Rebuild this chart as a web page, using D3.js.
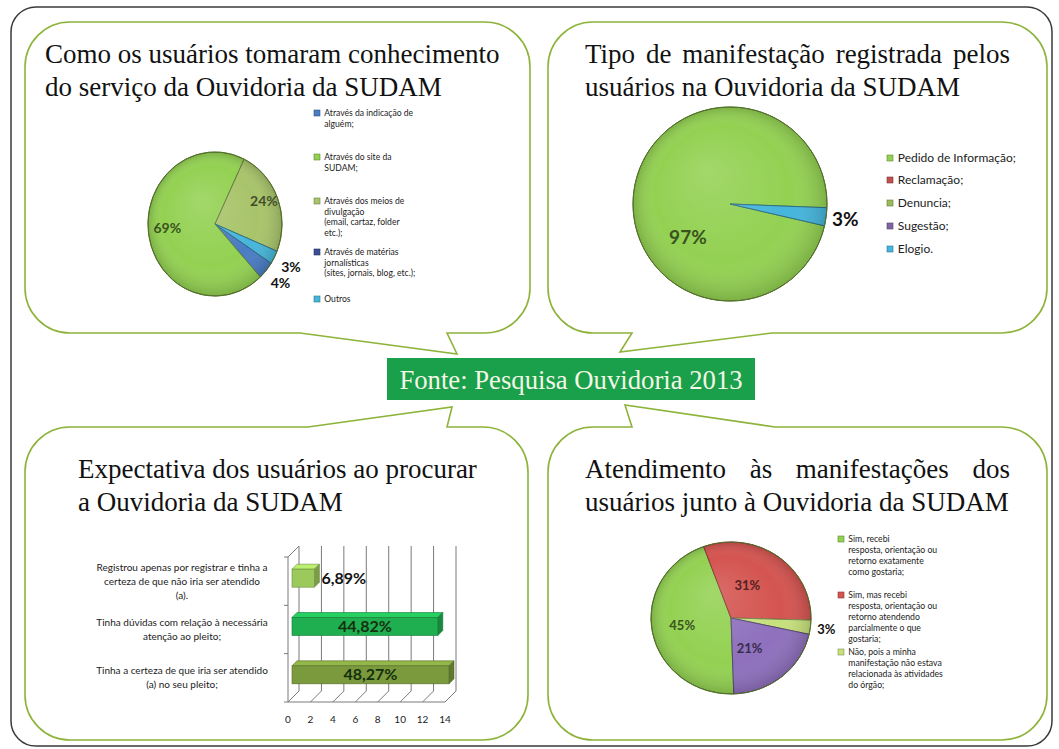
<!DOCTYPE html>
<html>
<head>
<meta charset="utf-8">
<script src="https://cdn.jsdelivr.net/npm/d3@7"></script>
<style>
  body { margin: 0; background: #fff; }
  svg { display: block; }
  .title { font-family: "Liberation Serif", "Times New Roman", serif; font-size: 27px; fill: #111; }
  .small { font-family: Lato, "Open Sans", sans-serif; fill: #222; }
  .pct { font-family: Lato, "Open Sans", sans-serif; font-weight: bold; }
</style>
</head>
<body>
<div id="chart"></div>
<script>
var svgWidth = 1059;
var svgHeight = 749;

// Como os usuarios tomaram conhecimento
var knowLabels = ["Através da indicação de\nalguém;", "Através do site da\nSUDAM;",
  "Através dos meios de\ndivulgação\n(email, cartaz, folder\netc.);",
  "Através de matérias\njornalísticas\n(sites, jornais, blog, etc.);", "Outros"];
var knowValues = [4, 69, 24, 0, 3];
var knowColors = ["#4a7cc4", "#93d152", "#a8c46a", "#3b4d94", "#47b6da"];

// Tipo de manifestacao
var typeLabels = ["Pedido de Informação;", "Reclamação;", "Denuncia;", "Sugestão;", "Elogio."];
var typeValues = [97, 0, 0, 0, 3];
var typeColors = ["#93d152", "#c0504d", "#9bbb59", "#8064a2", "#45b5dc"];

// Expectativa dos usuarios
var expLabels = ["Registrou apenas por registrar e tinha a\ncerteza de que não iria ser atendido\n(a).",
  "Tinha dúvidas com relação à necessária\natenção ao pleito;",
  "Tinha a certeza de que iria ser atendido\n(a) no seu pleito;"];
var expValues = [2, 13, 14];
var expPercent = ["6,89%", "44,82%", "48,27%"];
var expColors = ["#9cc95c", "#1fae50", "#7b9a3d"];
var expTicks = [0, 2, 4, 6, 8, 10, 12, 14];

// Atendimento as manifestacoes
var attLabels = ["Sim, recebi\nresposta, orientação ou\nretorno exatamente\ncomo gostaria;",
  "Sim, mas recebi\nresposta, orientação ou\nretorno atendendo\nparcialmente o que\ngostaria;",
  "Não, pois a minha\nmanifestação não estava\nrelacionada às atividades\ndo órgão;"];
var attValues = [45, 31, 3, 21];
var attColors = ["#93d152", "#d45450", "#c6e07c", "#8e70bd"];

var svg = d3.select("#chart")
    .append("svg")
    .attr("width", svgWidth)
    .attr("height", svgHeight);

var defs = svg.append("defs");
var gloss = defs.append("radialGradient")
    .attr("id", "gloss")
    .attr("cx", "50%").attr("cy", "50%").attr("r", "50%")
    .attr("fx", "38%").attr("fy", "32%");
gloss.append("stop").attr("offset", "0%").attr("stop-color", "#fff").attr("stop-opacity", 0.14);
gloss.append("stop").attr("offset", "70%").attr("stop-color", "#fff").attr("stop-opacity", 0);
gloss.append("stop").attr("offset", "100%").attr("stop-color", "#000").attr("stop-opacity", 0.16);

svg.append("rect").attr("width", svgWidth).attr("height", svgHeight).attr("fill", "#fff");

// outer frame
svg.append("rect")
    .attr("x", 11).attr("y", 7)
    .attr("width", 1041).attr("height", 739)
    .attr("rx", 25)
    .attr("fill", "none")
    .attr("stroke", "#3a3a3a")
    .attr("stroke-width", 1.5);

// speech-bubble boxes
function callout(x0, y0, x1, y1, r, side, a, tip, b) {
  var p = "M" + (x0 + r) + "," + y0;
  if (side == "top") p += " L" + a + "," + y0 + " L" + tip[0] + "," + tip[1] + " L" + b + "," + y0;
  p += " H" + (x1 - r) + " A" + r + "," + r + " 0 0 1 " + x1 + "," + (y0 + r);
  p += " V" + (y1 - r) + " A" + r + "," + r + " 0 0 1 " + (x1 - r) + "," + y1;
  if (side == "bottom") p += " L" + a + "," + y1 + " L" + tip[0] + "," + tip[1] + " L" + b + "," + y1;
  p += " H" + (x0 + r) + " A" + r + "," + r + " 0 0 1 " + x0 + "," + (y1 - r);
  p += " V" + (y0 + r) + " A" + r + "," + r + " 0 0 1 " + (x0 + r) + "," + y0 + " Z";
  svg.append("path")
    .attr("d", p)
    .attr("fill", "#fff")
    .attr("stroke", "#8db33a")
    .attr("stroke-width", 1.6);
}
callout(25, 22, 530, 333, 45, "bottom", 447, [457, 354], 300);
callout(548, 22, 1047, 333, 45, "bottom", 772, [620, 352], 632);
callout(25, 427, 528, 740, 45, "top", 308, [452, 407], 447);
callout(548, 427, 1047, 740, 45, "top", 632, [625, 405], 775);

// source label
svg.append("rect")
    .attr("x", 387).attr("y", 358)
    .attr("width", 368).attr("height", 42)
    .attr("fill", "#1a9f4a");
svg.append("text")
    .attr("x", 571).attr("y", 389)
    .attr("text-anchor", "middle")
    .style("font-family", "'Liberation Serif', serif")
    .style("font-size", "26.7px")
    .style("fill", "#f2f7e6")
    .text("Fonte: Pesquisa Ouvidoria 2013");

// titles, some lines justified
function title(x, y, lines, width, justify) {
  lines.forEach(function(line, i) {
    var yy = y + i * 33;
    if (!justify[i]) {
      svg.append("text").attr("class", "title").attr("x", x).attr("y", yy).text(line);
      return;
    }
    var words = line.split(" ");
    var ws = words.map(function(w) {
      return svg.append("text").attr("class", "title").attr("y", yy).text(w);
    });
    var total = d3.sum(ws, function(s) { return s.node().getComputedTextLength(); });
    var gap = (width - total) / (words.length - 1);
    var cx = x;
    ws.forEach(function(s) {
      s.attr("x", cx);
      cx += s.node().getComputedTextLength() + gap;
    });
  });
}
title(45, 63, ["Como os usuários tomaram conhecimento", "do serviço da Ouvidoria da SUDAM"], 452, [false, false]);
title(585, 63, ["Tipo de manifestação registrada pelos", "usuários na Ouvidoria da SUDAM"], 425, [true, false]);
title(78, 478, ["Expectativa dos usuários ao procurar", "a Ouvidoria da SUDAM"], 412, [false, false]);
title(585, 478, ["Atendimento às manifestações dos", "usuários junto à Ouvidoria da SUDAM"], 425, [true, false]);

// pies
function drawPie(o) {
  var k = o.ry / o.rx;
  var start = o.startDeg * Math.PI / 180;
  var pie = d3.pie().sort(null).startAngle(start).endAngle(start + 2 * Math.PI);
  var arcs = pie(o.values);
  var arc = d3.arc().innerRadius(0).outerRadius(o.rx);
  var g = svg.append("g").attr("transform", `translate(${o.cx}, ${o.cy}) scale(1, ${k})`);
  g.selectAll("path")
    .data(arcs.filter(function(d) { return d.value > 0; }))
    .enter()
    .append("path")
    .attr("d", arc)
    .attr("fill", function(d) { return o.colors[d.index]; })
    .attr("stroke", function(d) { return d3.color(o.colors[d.index]).darker(1.4); })
    .attr("stroke-width", 1)
    .attr("vector-effect", "non-scaling-stroke");
  g.append("circle")
    .attr("r", o.rx)
    .attr("fill", "url(#gloss)")
    .attr("stroke", "#55702a")
    .attr("stroke-width", 1)
    .attr("vector-effect", "non-scaling-stroke");

  arcs.filter(function(d) { return d.value > 0; }).forEach(function(d) {
    var outside = d.value < 5;
    var rr = o.rx * (outside ? o.outR : o.inR);
    var la = d3.arc().innerRadius(rr).outerRadius(rr);
    var c = la.centroid(d);
    var off = outside ? [0, 0] : o.inOffset;
    svg.append("text")
      .attr("class", "pct")
      .attr("x", o.cx + c[0] + off[0])
      .attr("y", o.cy + c[1] * k + off[1])
      .attr("dy", "0.35em")
      .attr("text-anchor", "middle")
      .style("font-size", o.font + "px")
      .style("fill", outside ? "#111" : d3.color(o.colors[d.index]).darker(2.6))
      .text(d.value + "%");
  });
}

function drawLegend(x, ys, labels, colors, font, lineH) {
  labels.forEach(function(lab, i) {
    svg.append("rect")
      .attr("x", x).attr("y", ys[i] - 3)
      .attr("width", 6).attr("height", 6)
      .attr("fill", colors[i])
      .attr("stroke", d3.color(colors[i]).darker(1.2))
      .attr("stroke-width", 0.6);
    var t = svg.append("text")
      .attr("class", "small")
      .style("font-size", font + "px");
    lab.split("\n").forEach(function(l, j) {
      t.append("tspan").attr("x", x + 9 + font * 0.15).attr("y", ys[i] + j * lineH).attr("dy", "0.35em").text(l);
    });
  });
}

drawPie({cx: 215, cy: 224, rx: 67, ry: 72, values: knowValues, colors: knowColors,
  startDeg: 123, font: 14, inR: 0.75, outR: 1.28, inOffset: [2, -4]});
drawLegend(314, [113, 157, 201, 252, 299], knowLabels, knowColors, 8.6, 10.5);

drawPie({cx: 730, cy: 204, rx: 97, ry: 97, values: typeValues, colors: typeColors,
  startDeg: 103, font: 19, inR: 0.5, outR: 1.2, inOffset: [6, 40]});
drawLegend(887, [158, 180, 203, 226, 249], typeLabels, typeColors, 12, 12);

drawPie({cx: 731, cy: 618, rx: 80, ry: 76, values: attValues, colors: attColors,
  startDeg: 178, font: 13, inR: 0.52, outR: 1.2, inOffset: [-8, 0]});
drawLegend(838, [539, 595, 652], attLabels, attColors, 8.7, 11);

// 3d horizontal bar chart
var xScale = d3.scaleLinear().domain([0, 14]).range([288, 445]);
var yScale = d3.scaleBand().domain(expLabels).range([557, 702]);
var dx = 11, dy = -11;
var yBot = yScale.range()[1], yTop = yScale.range()[0];
var grid = svg.append("g").attr("stroke", "#7a7a7a").attr("stroke-width", 1).attr("fill", "none");

expTicks.forEach(function(t) {
  grid.append("line")
    .attr("x1", xScale(t) + dx).attr("x2", xScale(t) + dx)
    .attr("y1", yTop + dy).attr("y2", yBot + dy);
  grid.append("line")
    .attr("x1", xScale(t)).attr("x2", xScale(t) + dx)
    .attr("y1", yBot).attr("y2", yBot + dy);
});
grid.append("line").attr("x1", xScale(0)).attr("x2", xScale(14)).attr("y1", yBot).attr("y2", yBot);
grid.append("line").attr("x1", xScale(0)).attr("x2", xScale(0)).attr("y1", yTop).attr("y2", yBot);
grid.append("line").attr("x1", xScale(0)).attr("x2", xScale(0) + dx).attr("y1", yTop).attr("y2", yTop + dy);
yScale.domain().concat([null]).forEach(function(c) {
  var yy = c === null ? yBot : yScale(c);
  grid.append("line").attr("x1", xScale(0) - 4).attr("x2", xScale(0)).attr("y1", yy).attr("y2", yy);
});

var bd = 5, bh = 18;
expLabels.forEach(function(c, i) {
  var x0 = xScale(0) + 4, x1 = xScale(expValues[i]) + 4;
  var y0 = yScale(c) + yScale.bandwidth() / 2 - bh / 2 - 3;
  var col = d3.color(expColors[i]);
  svg.append("path")
    .attr("d", `M${x0},${y0} L${x0 + bd},${y0 - bd} L${x1 + bd},${y0 - bd} L${x1},${y0} Z`)
    .attr("fill", col.brighter(0.5)).attr("stroke", col.darker(1)).attr("stroke-width", 0.6);
  svg.append("path")
    .attr("d", `M${x1},${y0} L${x1 + bd},${y0 - bd} L${x1 + bd},${y0 + bh - bd} L${x1},${y0 + bh} Z`)
    .attr("fill", col.darker(0.7)).attr("stroke", col.darker(1)).attr("stroke-width", 0.6);
  svg.append("rect")
    .attr("x", x0).attr("y", y0)
    .attr("width", x1 - x0).attr("height", bh)
    .attr("fill", col).attr("stroke", col.darker(1)).attr("stroke-width", 0.6);

  var inside = expValues[i] > 4;
  svg.append("text")
    .attr("class", "pct")
    .attr("x", inside ? (x0 + x1) / 2 : x1 + bd + 2)
    .attr("y", y0 + bh / 2)
    .attr("dy", "0.35em")
    .attr("text-anchor", inside ? "middle" : "start")
    .style("font-size", "16px")
    .style("fill", inside ? "#15300f" : "#111")
    .text(expPercent[i]);

  var lines = c.split("\n");
  var cy = yScale(c) + yScale.bandwidth() / 2 - (lines.length - 1) * 7;
  var t = svg.append("text").attr("class", "small").attr("text-anchor", "middle").style("font-size", "10px");
  lines.forEach(function(l, j) {
    t.append("tspan").attr("x", 182).attr("y", cy + j * 14).attr("dy", "0.35em").text(l);
  });
});

svg.selectAll(".xtick")
  .data(expTicks)
  .enter()
  .append("text")
  .attr("class", "small xtick")
  .attr("x", function(d) { return xScale(d); })
  .attr("y", 719)
  .attr("dy", "0.35em")
  .attr("text-anchor", "middle")
  .style("font-size", "10px")
  .text(function(d) { return d; });
</script>
</body>
</html>
